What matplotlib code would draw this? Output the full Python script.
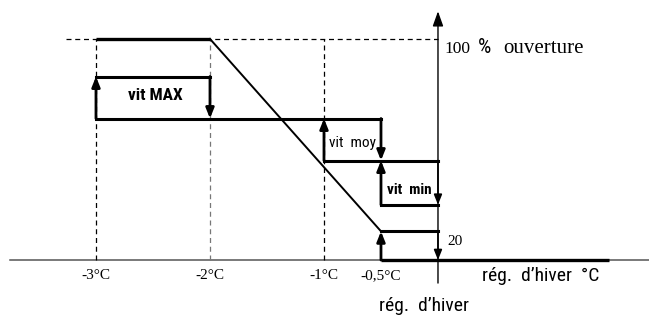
import matplotlib
matplotlib.use('Agg')
import matplotlib.pyplot as plt
from matplotlib import font_manager as fm

# Températures (°C) et niveaux d'ouverture (%)
temps = [-3, -2, -1, -0.5, 0]
temp_labels = ['-3°C', '-2°C', '-1°C', '-0,5°C']
open_x = [-3, -2, -0.5]
open_y = [100, 100, 13]
base_x = [-0.5, 1.5]
base_y = [0, 0]

# Paliers de vitesse
lvl_max = 83
lvl_hi = 64
lvl_moy = 45
lvl_min = 25
lvl_20 = 13
box_names = ['vit MAX', 'vit  moy', 'vit  min']
box_x0 = [-3, -1, -0.5]
box_x1 = [-2, -0.5, 0]
box_top = [lvl_max, lvl_hi, lvl_moy]
box_bot = [lvl_hi, lvl_moy, lvl_min]

# police étroite si disponible
entries = fm.fontManager.ttflist
names = {f.name for f in entries}
narrow_kw = dict(family='Liberation Sans')
for cand in ['Liberation Sans Narrow', 'Arial Narrow', 'Roboto Condensed',
             'DejaVu Sans Condensed', 'Open Sans Condensed']:
    if cand in names:
        narrow_kw = dict(family=cand)
        break
else:
    cond = [f for f in entries if str(f.stretch) in ('condensed', 'semi-condensed', '300', '400')]
    if cond:
        narrow_kw = dict(family=cond[0].name, stretch=cond[0].stretch)
serif = ['Liberation Serif', 'DejaVu Serif']

fig = plt.figure(figsize=(6.49, 3.16), dpi=100)
ax = fig.add_axes([0, 0, 1, 1])
ax.set_xlim(-3.842, 1.851)
ax.set_ylim(-25.3, 117.6)
ax.axis('off')

arrow_style = '-|>,head_length=0.75,head_width=0.3'


def arrow(x, y0, y1, lw=2.0):
    ax.annotate('', xy=(x, y1), xytext=(x, y0),
                arrowprops=dict(arrowstyle=arrow_style, mutation_scale=8,
                                color='black', lw=lw, shrinkA=0, shrinkB=0))


# axes
ax.plot([-3.75, 1.86], [0, 0], color='#555555', lw=1.1)
ax.annotate('', xy=(0, 112.5), xytext=(0, -10.4),
            arrowprops=dict(arrowstyle='-|>,head_length=0.9,head_width=0.32',
                            mutation_scale=10, color='black', lw=1.0,
                            shrinkA=0, shrinkB=0))

# lignes pointillées
ax.plot([-3.26, 0], [100, 100], color='black', lw=0.9, ls=(0, (4, 3)))
for t in temps[:3]:
    c = '#777777' if t == -2 else 'black'
    ax.plot([t, t], [0, 100], color=c, lw=0.9, ls=(0, (4, 3)))

# courbe d'ouverture
ax.plot(open_x[:2], open_y[:2], color='black', lw=2.4, solid_capstyle='butt')
ax.plot(open_x[1:], open_y[1:], color='black', lw=1.4)
ax.plot(base_x, base_y, color='black', lw=2.4, solid_capstyle='butt')

# paliers
ax.plot([box_x0[0], box_x1[1]], [lvl_hi, lvl_hi], color='black', lw=2.2)
ax.plot([box_x0[0], box_x1[0]], [lvl_max, lvl_max], color='black', lw=2.2)
ax.plot([box_x0[1], box_x1[2]], [lvl_moy, lvl_moy], color='black', lw=2.2)
ax.plot([box_x0[2], box_x1[2]], [lvl_min, lvl_min], color='black', lw=2.2)
ax.plot([box_x0[2], box_x1[2]], [lvl_20, lvl_20], color='black', lw=2.2)

for i in range(3):
    lw_r = 1.2 if box_x1[i] == 0 else 2.0
    arrow(box_x0[i], box_bot[i], box_top[i])
    arrow(box_x1[i], box_top[i], box_bot[i], lw=lw_r)
arrow(-0.5, 0, lvl_20)
arrow(0, lvl_20, 0, lw=1.2)

ax.text(-2.48, 74.2, box_names[0], fontweight='bold', fontsize=12.5,
        ha='center', va='center', **narrow_kw)
ax.text(-0.75, 52.9, box_names[1], fontsize=11,
        ha='center', va='center', **narrow_kw)
ax.text(-0.25, 31.7, box_names[2], fontweight='bold', fontsize=11,
        ha='center', va='center', **narrow_kw)

for t, lab in zip(temps[:4], temp_labels):
    ax.text(t, -7.0, lab, family=serif, fontsize=11, ha='center', va='center')

ax.text(0.055, 95.6, '100', family=serif, fontsize=12.5, ha='left', va='center')
ax.text(0.35, 96.0, '%', fontsize=15, ha='left', va='center', **narrow_kw)
ax.text(0.57, 95.6, 'ouverture', family=serif, fontsize=15, ha='left', va='center')
ax.text(0.08, 8.6, '20', family=serif, fontsize=11, ha='left', va='center')

ax.text(0.39, -7.4, 'rég.  d\u2019hiver  °C', fontsize=14,
        ha='left', va='center', **narrow_kw)
ax.text(-0.12, -20.6, 'rég.  d\u2019hiver', fontsize=14,
        ha='center', va='center', **narrow_kw)

fig.savefig('out.png', dpi=100)
